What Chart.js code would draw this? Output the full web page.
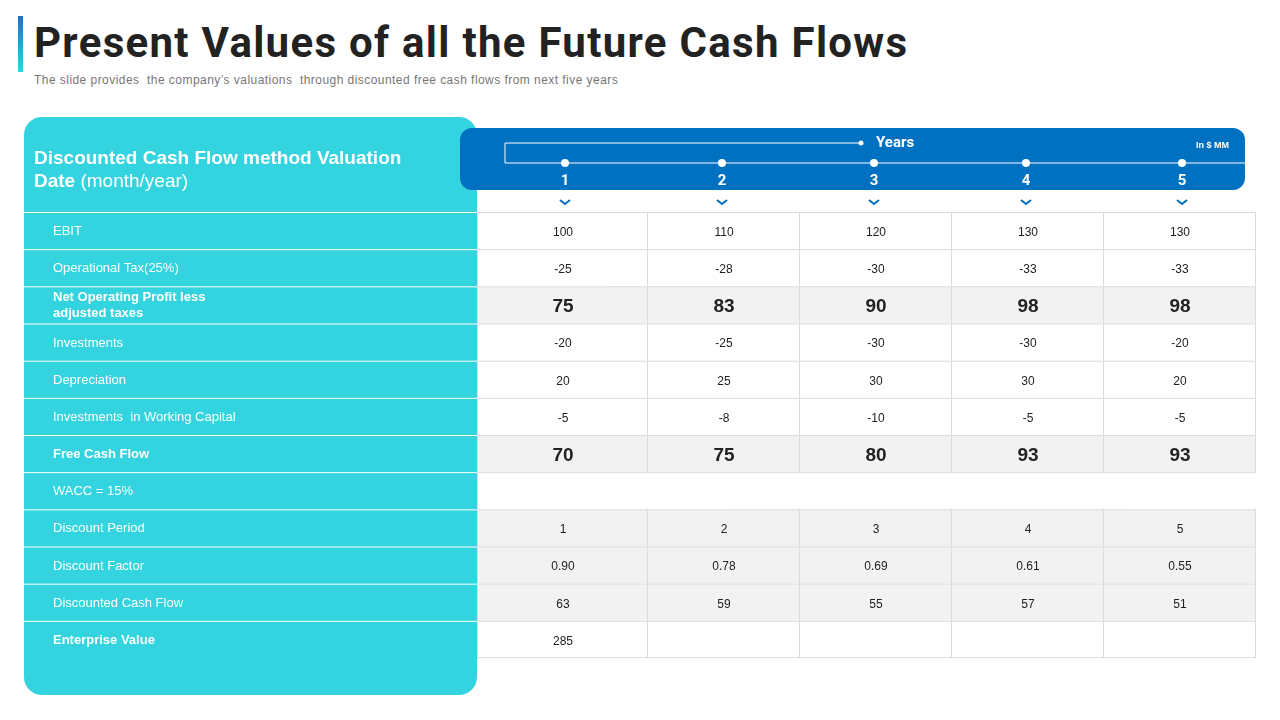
<!DOCTYPE html>
<html><head><meta charset="utf-8">
<script src="https://cdn.jsdelivr.net/npm/chart.js@4/dist/chart.umd.min.js"></script>
<style>
body{margin:0;width:1280px;height:720px;overflow:hidden;background:#fff;font-family:Roboto,Arial,sans-serif}
#bar{position:absolute;left:18px;top:16px;width:5px;height:56px;background:linear-gradient(#1f6fc5,#33d4df)}
h1{position:absolute;left:34px;top:18px;margin:0;font-size:42px;font-weight:700;color:#222;letter-spacing:1.3px}
#sub{position:absolute;left:34px;top:73px;font-size:12px;color:#777;font-family:Arial,sans-serif;letter-spacing:0.45px}
#wrap{position:absolute;left:0;top:0;width:1280px;height:720px}
</style></head><body>
<div id="bar"></div>
<h1>Present Values of all the Future Cash Flows</h1>
<div id="sub">The slide provides&nbsp; the company’s valuations&nbsp; through discounted free cash flows from next five years</div>
<div id="wrap"><canvas id="tbl"></canvas></div>
<script>
const years = ['1', '2', '3', '4', '5'];
const rowLabels = ['EBIT', 'Operational Tax(25%)', 'Net Operating Profit less|adjusted taxes', 'Investments', 'Depreciation',
  'Investments  in Working Capital', 'Free Cash Flow', 'WACC = 15%', 'Discount Period', 'Discount Factor',
  'Discounted Cash Flow', 'Enterprise Value'];
const ebit = ['100', '110', '120', '130', '130'];
const opTax = ['-25', '-28', '-30', '-33', '-33'];
const nopat = ['75', '83', '90', '98', '98'];
const investments = ['-20', '-25', '-30', '-30', '-20'];
const depreciation = ['20', '25', '30', '30', '20'];
const workingCap = ['-5', '-8', '-10', '-5', '-5'];
const fcf = ['70', '75', '80', '93', '93'];
const wacc = ['', '', '', '', ''];
const discPeriod = ['1', '2', '3', '4', '5'];
const discFactor = ['0.90', '0.78', '0.69', '0.61', '0.55'];
const dcf = ['63', '59', '55', '57', '51'];
const enterprise = ['285', '', '', '', ''];
const rows = [ebit, opTax, nopat, investments, depreciation, workingCap, fcf, wacc, discPeriod, discFactor, dcf, enterprise];
const boldRows = [2, 6, 11];
const bigRows = [2, 6];
const grayRows = [2, 6, 8, 9, 10];

function rr(c, x, y, w, h, r) {
  c.beginPath(); c.moveTo(x + r, y); c.arcTo(x + w, y, x + w, y + h, r); c.arcTo(x + w, y + h, x, y + h, r);
  c.arcTo(x, y + h, x, y, r); c.arcTo(x, y, x + w, y, r); c.closePath();
}

const tablePlugin = {
  id: 'table',
  beforeDatasetsDraw(chart) {
    const c = chart.ctx, xs = chart.scales.x, ys = chart.scales.y;
    const L = 478, R = xs.right;
    const colMid = i => i === 0 ? (L + xs.getPixelForValue(1)) / 2 : xs.getPixelForValue(i + 0.5);
    c.save();
    // left panel
    c.fillStyle = '#33d4df'; rr(c, 24, 117, 453, 578, 18); c.fill();
    c.fillStyle = '#fff'; c.textBaseline = 'middle'; c.textAlign = 'left';
    c.font = 'bold 19px Arial';
    c.fillText('Discounted Cash Flow method Valuation', 34, 159);
    c.fillText('Date', 34, 182);
    c.font = '19px Arial'; c.fillText('(month/year)', 34 + c.measureText('Date ').width + 1, 182);
    // header band
    c.fillStyle = '#0070c0'; rr(c, 460, 128, 785, 62, 12); c.fill();
    c.strokeStyle = '#fff'; c.lineWidth = 1;
    c.beginPath(); c.moveTo(505, 163); c.lineTo(505, 143); c.lineTo(860, 143); c.moveTo(505, 163); c.lineTo(1245, 163); c.stroke();
    c.fillStyle = '#fff'; c.beginPath(); c.arc(861, 143, 2.5, 0, 7); c.fill();
    c.font = 'bold 15px Roboto'; c.fillText('Years', 876, 143);
    c.font = 'bold 9px Arial'; c.fillText('In $ MM', 1196, 146);
    years.forEach((y, i) => {
      const cx = colMid(i) + (i === 0 ? 2 : (i === 4 ? 2 : -2));
      c.fillStyle = '#fff'; c.beginPath(); c.arc(cx, 163, 4, 0, 7); c.fill();
      c.textAlign = 'center'; c.font = 'bold 15px Roboto'; c.fillText(y, cx, 181);
      c.strokeStyle = '#0070c0'; c.lineWidth = 2; c.beginPath();
      c.moveTo(cx - 5, 200); c.lineTo(cx, 204); c.lineTo(cx + 5, 200); c.stroke();
    });
    // rows
    rows.forEach((vals, r) => {
      const top = ys.getPixelForValue(r), bot = ys.getPixelForValue(r + 1), mid = (top + bot) / 2;
      if (grayRows.includes(r)) { c.fillStyle = '#f2f2f2'; c.fillRect(L, top, R - L, bot - top); }
      c.fillStyle = '#fff'; c.textAlign = 'left';
      c.font = (boldRows.includes(r) ? 'bold ' : '') + '13px Arial';
      const parts = rowLabels[r].split('|');
      parts.forEach((p, k) => c.fillText(p, 53, mid + 1 + (k - (parts.length - 1) / 2) * 16));
      c.fillStyle = '#222'; c.textAlign = 'center';
      c.font = bigRows.includes(r) ? 'bold 19px Arial' : '12px Arial';
      vals.forEach((v, i) => c.fillText(v, colMid(i), mid + 2));
      c.strokeStyle = '#ffffff'; c.lineWidth = 1;
      c.beginPath(); c.moveTo(24, top + 0.5); c.lineTo(477, top + 0.5); c.stroke();
      c.strokeStyle = '#dcdcdc';
      c.beginPath(); c.moveTo(L, top + 0.5); c.lineTo(R, top + 0.5);
      if (r !== 7) for (let i = 1; i <= 5; i++) { const x = Math.round(xs.getPixelForValue(i)) - 0.5; c.moveTo(x, top); c.lineTo(x, bot); }
      c.moveTo(L - 0.5, top); c.lineTo(L - 0.5, bot);
      c.stroke();
    });
    const b = ys.getPixelForValue(rows.length);
    c.strokeStyle = '#dcdcdc'; c.beginPath(); c.moveTo(L, b - 0.5); c.lineTo(R, b - 0.5); c.stroke();
    c.restore();
  }
};

new Chart(document.getElementById('tbl'), {
  type: 'scatter',
  data: { datasets: [{ data: [], pointRadius: 0 }] },
  options: {
    responsive: true, maintainAspectRatio: false, animation: false,
    layout: { padding: { left: 496, right: 24, top: 212, bottom: 62 } },
    plugins: { legend: { display: false }, tooltip: { enabled: false } },
    scales: {
      x: { type: 'linear', min: 0, max: 5, display: false },
      y: { type: 'linear', min: 0, max: 12, reverse: true, display: false }
    }
  },
  plugins: [tablePlugin]
});
</script>
</body></html>
